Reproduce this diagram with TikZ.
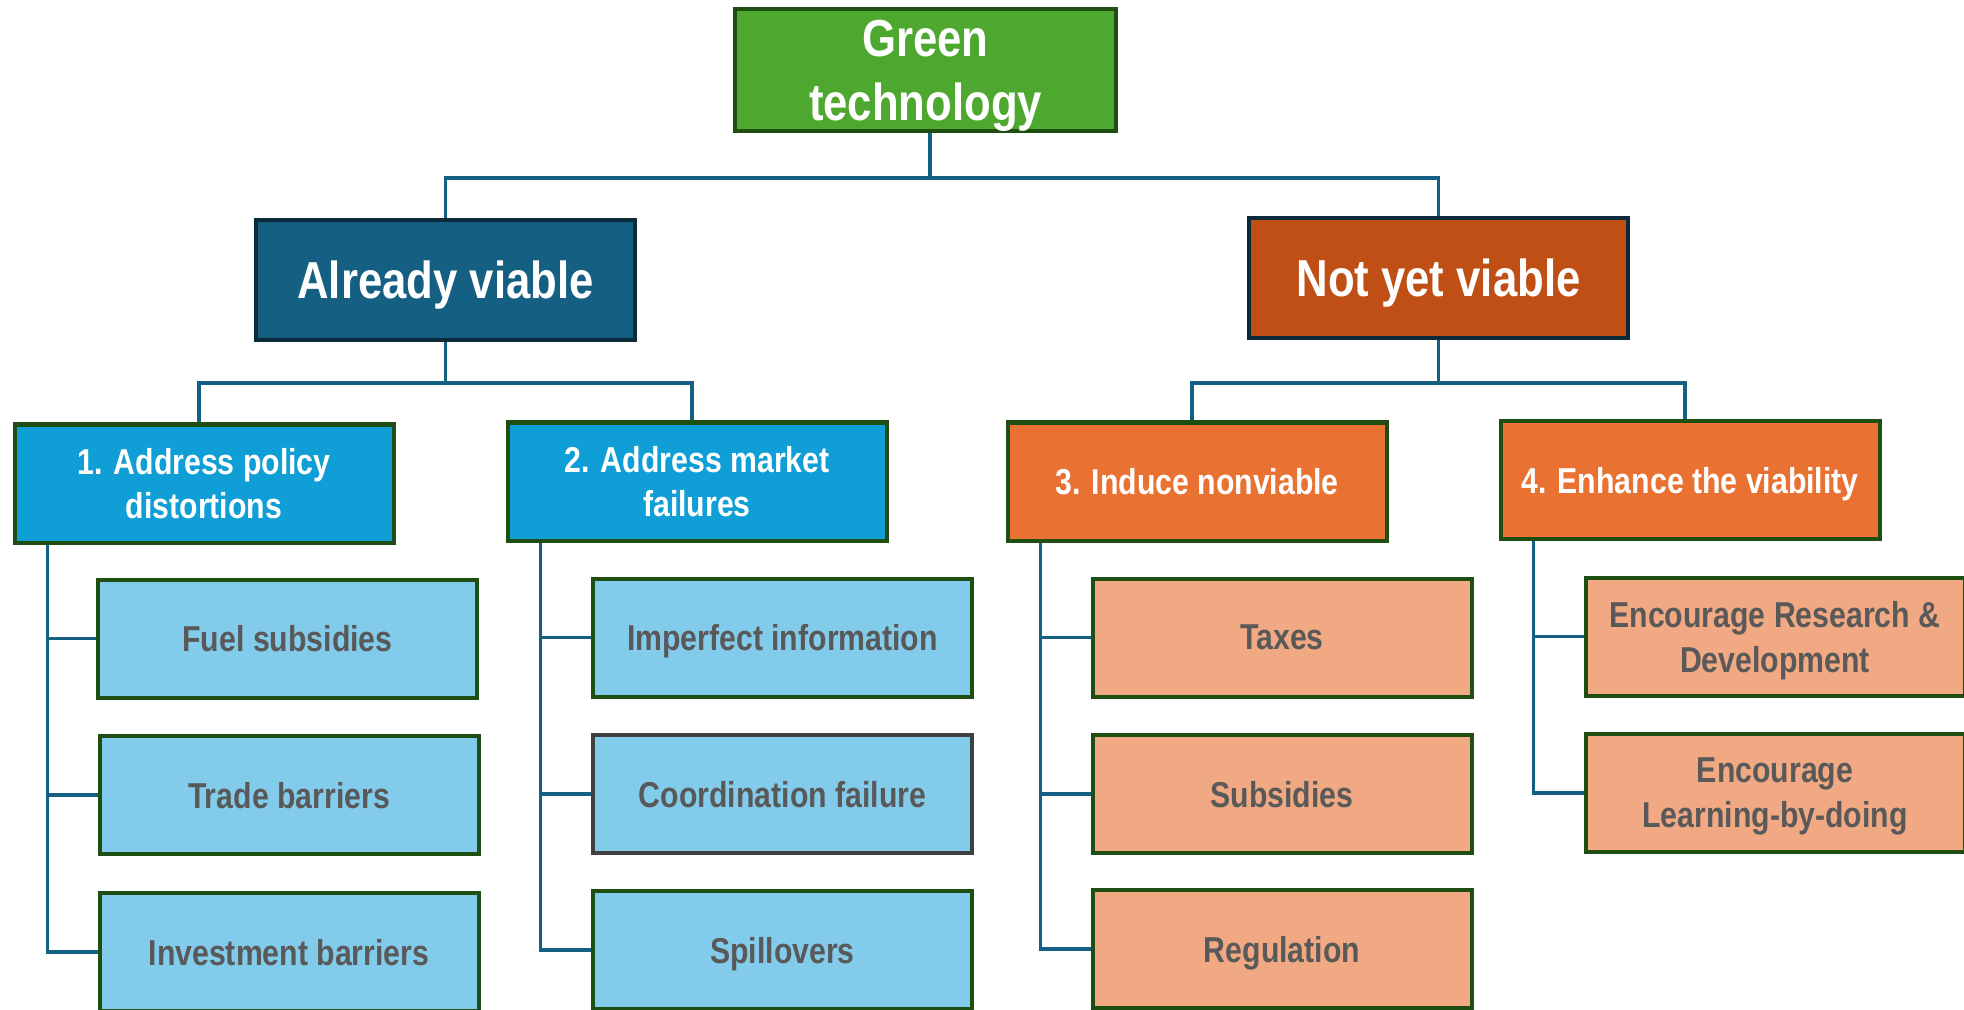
\documentclass[tikz,border=0pt]{standalone}
\usepackage{fontspec}
\usetikzlibrary{backgrounds}
\newfontfamily\cf[FakeStretch=0.84]{Liberation Sans}
\definecolor{cgreen}{HTML}{4EA72E}
\definecolor{bgreen}{HTML}{1F4E13}
\definecolor{navyb}{HTML}{0B2B3B}
\definecolor{avfill}{HTML}{156082}
\definecolor{nvfill}{HTML}{C04F15}
\definecolor{ltwoblue}{HTML}{0F9ED5}
\definecolor{ltwoor}{HTML}{E97132}
\definecolor{lthreeblue}{HTML}{83CBEB}
\definecolor{lthreeor}{HTML}{F1A983}
\definecolor{greytext}{HTML}{595959}
\definecolor{cgrey}{HTML}{404040}
\definecolor{cline}{HTML}{156082}
\begin{document}
\begin{tikzpicture}[x=0.5pt,y=-0.5pt,
  base/.style={draw=bgreen,line width=2pt,inner sep=0pt,align=center,text=white,text depth=0pt},
  topbox/.style={base,fill=cgreen,minimum width=190.5pt,minimum height=61pt,font=\cf\bfseries\fontsize{26}{32}\selectfont},
  lonebox/.style={base,draw=navyb,minimum width=189.5pt,minimum height=60pt,font=\cf\bfseries\fontsize{26}{32}\selectfont},
  ltwo/.style={base,minimum width=189.5pt,minimum height=59pt,font=\cf\bfseries\fontsize{18}{22}\selectfont},
  lthree/.style={base,text=greytext,minimum width=189.5pt,minimum height=59pt,font=\cf\bfseries\fontsize{18}{22.5}\selectfont},
  conn/.style={draw=cline,line width=1.6pt}]
\useasboundingbox (0,0) rectangle (1964,1010);
\clip (0,0) rectangle (1964,1010);
% top
\node[topbox] (gt) at (925.5,70) {Green\\technology};
\node[lonebox,fill=avfill] (av) at (445.5,280) {Already viable};
\node[lonebox,fill=nvfill] (nv) at (1438.5,278) {Not yet viable};
% level 2
\node[ltwo,fill=ltwoblue] (p1) at (204,483.5) {1. Address policy\\distortions};
\node[ltwo,fill=ltwoblue] (p2) at (697,481.5) {2. Address market\\failures};
\node[ltwo,fill=ltwoor] (p3) at (1197,481.5) {3. Induce nonviable};
\node[ltwo,fill=ltwoor] (p4) at (1690,480) {4. Enhance the viability};
% level 3
\node[lthree,fill=lthreeblue] (a1) at (287.5,638.5) {Fuel subsidies};
\node[lthree,fill=lthreeblue] (a2) at (289,795) {Trade barriers};
\node[lthree,fill=lthreeblue] (a3) at (289,952) {Investment barriers};
\node[lthree,fill=lthreeblue] (b1) at (782.5,637.5) {Imperfect information};
\node[lthree,fill=lthreeblue,draw=cgrey] (b2) at (782.5,794) {Coordination failure};
\node[lthree,fill=lthreeblue] (b3) at (782.5,950) {Spillovers};
\node[lthree,fill=lthreeor] (c1) at (1282,637.5) {Taxes};
\node[lthree,fill=lthreeor] (c2) at (1282,794) {Subsidies};
\node[lthree,fill=lthreeor] (c3) at (1282,949) {Regulation};
\node[lthree,fill=lthreeor] (d1) at (1775,636.5) {Encourage Research \&\\Development};
\node[lthree,fill=lthreeor] (d2) at (1775,793) {Encourage\\Learning-by-doing};
% connectors
\coordinate (yone) at (0,178);
\coordinate (ytwo) at (0,383);
\begin{scope}[on background layer]
\draw[conn] ([xshift=2.25pt]gt.south) -- ([xshift=2.25pt]gt.south |- yone);
\draw[conn] (av.north) |- (nv.north |- yone) -- (nv.north);
\draw[conn] (av.south) -- (av.south |- ytwo);
\draw[conn] ([xshift=-2.5pt]p1.north) |- ([xshift=-2.5pt]p2.north |- ytwo) -- ([xshift=-2.5pt]p2.north);
\draw[conn] (nv.south) -- (nv.south |- ytwo);
\draw[conn] ([xshift=-2.5pt]p3.north) |- ([xshift=-2.5pt]p4.north |- ytwo) -- ([xshift=-2.5pt]p4.north);
% spines
\coordinate (s1) at ([xshift=17.5pt]p1.south west);
\coordinate (s2) at ([xshift=17.5pt]p2.south west);
\coordinate (s3) at ([xshift=17.5pt]p3.south west);
\coordinate (s4) at ([xshift=17.5pt]p4.south west);
\draw[conn] (s1) |- (a3.west);
\draw[conn] (s1 |- a1.west) -- (a1.west);
\draw[conn] (s1 |- a2.west) -- (a2.west);
\draw[conn] (s2) |- (b3.west);
\draw[conn] (s2 |- b1.west) -- (b1.west);
\draw[conn] (s2 |- b2.west) -- (b2.west);
\draw[conn] (s3) |- (c3.west);
\draw[conn] (s3 |- c1.west) -- (c1.west);
\draw[conn] (s3 |- c2.west) -- (c2.west);
\draw[conn] (s4) |- (d2.west);
\draw[conn] (s4 |- d1.west) -- (d1.west);
\end{scope}
\end{tikzpicture}
\end{document}
